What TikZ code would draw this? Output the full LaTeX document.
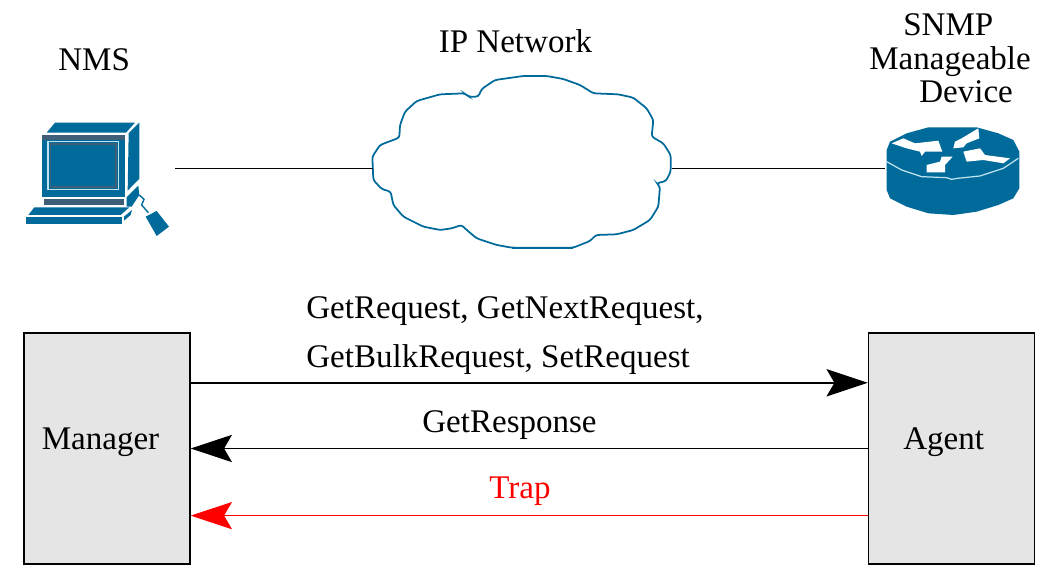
\documentclass[tikz,border=0pt]{standalone}
\usepackage{fontspec}
\setmainfont{Liberation Serif}
\usetikzlibrary{arrows.meta, positioning}
\definecolor{iconblue}{HTML}{006A9A}
\definecolor{icondark}{HTML}{3F5F78}
\definecolor{iconpale}{HTML}{BFE3EE}
\definecolor{boxgray}{HTML}{E5E5E5}
\tikzset{
  label/.style={font=\fontsize{18.8}{22}\selectfont,anchor=base west,inner sep=0pt},
  iconbox/.style={inner sep=0pt,minimum height=0.4cm},
  endbox/.style={draw,fill=boxgray,line width=0.8pt,minimum width=3.32cm,minimum height=4.62cm,inner sep=0pt},
  msgtip/.style={-{Stealth[length=23.5pt,width=15.5pt,inset=4.5pt]}},
  link/.style={line width=0.55pt},
}
\begin{document}
\begin{tikzpicture}[x=0.02cm,y=-0.02cm]
    \useasboundingbox (0,0) rectangle (1057,587);

    % Icons, the connectors stop at these
    \node[iconbox,minimum width=3cm] (nms) at (100,168) {};
    \node[iconbox,minimum width=5.98cm] (cloud) at (522.5,168) {};
    \node[iconbox,minimum width=2.68cm] (router) at (952,168) {};

    % Computer
    \begin{scope}[shift={(0,100)},xscale=1/3,yscale=1/3]
      \fill[iconblue] (165,68) -- (405,68) -- (378,98) -- (140,98) -- cycle;
      \fill[iconblue] (386,100) -- (418,68) -- (418,236) -- (383,272) -- cycle;
      \fill[iconblue] (125,105) rectangle (375,290);
      \fill[icondark] (125,105) rectangle (375,120);
      \draw[iconpale,line width=0.9pt] (144,124) rectangle (355,269);
      \fill[icondark] (149,130) rectangle (350,264);
      \fill[iconblue] (152,134) rectangle (346,259);
      \fill[icondark] (133,298) rectangle (372,315);
      \fill[iconblue] (103,322) -- (388,322) -- (362,345) -- (85,345) -- cycle;
      \fill[iconblue] (78,352) rectangle (365,371);
      \fill[iconblue] (372,350) -- (396,330) -- (392,345) -- (372,362) -- cycle;
      \fill[iconblue] (380,292) -- (415,257) -- (418,285) -- (395,320) -- (380,320) -- cycle;
      \draw[iconblue,line width=0.8pt] (418,285) -- (432,298) -- (425,315) -- (445,338);
      \fill[iconblue] (437,350) -- (470,333) -- (507,380) -- (470,408) -- cycle;
    \end{scope}

    % Cloud
    \begin{scope}[shift={(360,65)},xscale=1/3,yscale=1/3]
      \draw[iconblue,line width=1pt,rounded corners=1.5pt]
        (37,275) -- (60,240) -- (118,218) -- (120,180) -- (135,140) -- (170,108) -- (240,88) -- (315,85)
        -- (325,95) -- (355,95) -- (365,72) -- (405,45) -- (490,33) -- (560,33) -- (610,42) -- (660,60)
        -- (700,85) -- (775,88) -- (820,98) -- (860,130) -- (880,165) -- (875,215) -- (910,235) -- (932,270)
        -- (932,320) -- (918,348) -- (890,355) -- (900,365) -- (895,425) -- (870,465) -- (820,495) -- (770,508)
        -- (708,510) -- (690,528) -- (640,548) -- (455,548) -- (410,540) -- (350,520) -- (320,495) -- (305,480)
        -- (275,490) -- (240,495) -- (190,485) -- (130,455) -- (100,420) -- (92,380) -- (65,372) -- (40,345) -- cycle;
      \draw[iconblue,line width=1.6pt] (455,549) -- (640,549);
    \end{scope}

    % Router
    \begin{scope}[shift={(870,110)},xscale=1/3,yscale=1/3]
      \fill[iconblue] (50,120) -- (60,95) -- (110,70) -- (175,52) -- (320,52) -- (385,70)
        -- (430,90) -- (448,125) -- (448,235) -- (430,265) -- (385,285) -- (320,305)
        -- (250,315) -- (175,310) -- (110,290) -- (60,265) -- (50,240) -- cycle;
      \draw[iconpale,line width=0.7pt] (50,155) -- (95,180) -- (155,200) -- (230,203)
        -- (245,208) -- (262,205) -- (330,198) -- (400,175) -- (445,145);
      \fill[white] (65,100) -- (100,85) -- (135,100) -- (205,92) -- (217,125) -- (165,125)
        -- (155,138) -- (150,125) -- (110,115) -- cycle;
      \fill[white] (250,115) -- (255,95) -- (275,85) -- (325,55) -- (328,85) -- (290,100)
        -- (280,112) -- cycle;
      \fill[white] (280,125) -- (330,115) -- (345,135) -- (420,145) -- (400,160) -- (340,150)
        -- (290,155) -- cycle;
      \fill[white] (170,165) -- (210,155) -- (215,140) -- (248,140) -- (225,165) -- (225,187)
        -- (170,187) -- cycle;
    \end{scope}

    \draw[link] (nms) -- (cloud);
    \draw[link] (cloud) -- (router);

    % Labels on top
    \node[label] (nmslabel) at (58,71) {NMS};
    \node[label] (iplabel) at (438.5,53) {IP Network};
    \node[label] (snmplabel) at (903,36) {SNMP};
    \node[label] (mgtlabel) at (869,70) {Manageable};
    \node[label] (devlabel) at (919,103) {Device};

    % Manager and agent
    \node[endbox] (manager) at (107,448.5) {};
    \node[endbox] (agent) at (951.5,448.5) {};
    \node[label] (mgrlabel) at (41.5,449) {Manager};
    \node[label] (agtlabel) at (903,449) {Agent};

    \draw[msgtip,line width=1.2pt] ([yshift=37.4pt]manager.east) -- ([yshift=37.4pt]agent.west);
    \draw[msgtip,link] (agent) -- (manager);
    \draw[msgtip,link,red] ([yshift=-38.2pt]agent.west) -- ([yshift=-38.2pt]manager.east);

    % Messages
    \node[label] (reqa) at (306,318) {GetRequest, GetNextRequest,};
    \node[label] (reqb) at (306,367) {GetBulkRequest, SetRequest};
    \node[label] (resp) at (422,432) {GetResponse};
    \node[label,red] (trap) at (489,498) {Trap};
\end{tikzpicture}
\end{document}
